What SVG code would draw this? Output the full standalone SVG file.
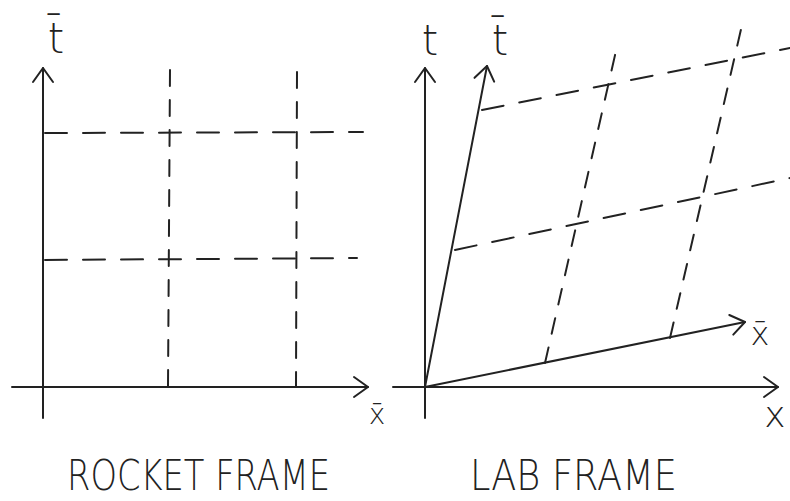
<svg xmlns="http://www.w3.org/2000/svg" width="790" height="501" viewBox="0 0 790 501">
<style>
.ax{fill:none;stroke:#222;stroke-width:2;stroke-linecap:round}
.dh{fill:none;stroke:#222;stroke-width:2;stroke-dasharray:22 16;stroke-linecap:round}
.dv{fill:none;stroke:#222;stroke-width:2;stroke-dasharray:16 14;stroke-linecap:round}
.lbl{font-family:"DejaVu Sans","Liberation Sans",sans-serif;font-weight:200;fill:#222;text-anchor:middle}
.big{font-family:"DejaVu Sans","Liberation Sans",sans-serif;font-weight:200;fill:#222;font-size:42px}
</style>
<defs>
<marker id="arr" markerWidth="20" markerHeight="24" refX="16" refY="12" orient="auto" markerUnits="userSpaceOnUse">
<path d="M2 2 L16 12 L2 22" fill="none" stroke="#222" stroke-width="2" stroke-linecap="round" stroke-linejoin="round"/>
</marker>
</defs>
<rect width="790" height="501" fill="#fff"/>
<g id="rocket-frame">
<g id="rocket-connectors">
<path class="ax" d="M43 418 L43 68" marker-end="url(#arr)"/>
<path class="ax" d="M12 387 L368 387" marker-end="url(#arr)"/>
<path class="dh" d="M45 133 L363 132"/>
<path class="dh" d="M45 260 L357 258"/>
<path class="dv" d="M170 70 L168 387"/>
<path class="dv" d="M297 72 L296 387"/>
</g>
<text class="lbl" x="56" y="53" font-size="42">t̄</text>
<text class="lbl" x="377" y="424" font-size="28">x̄</text>
<text class="big" x="67" y="490" textLength="263" lengthAdjust="spacingAndGlyphs">ROCKET FRAME</text>
</g>
<g id="lab-frame">
<g id="lab-connectors">
<path class="ax" d="M425 418 L425 68" marker-end="url(#arr)"/>
<path class="ax" d="M393 387 L778 387" marker-end="url(#arr)"/>
<path class="ax" d="M425 387 L487 66" marker-end="url(#arr)"/>
<path class="ax" d="M425 387 L745 322" marker-end="url(#arr)"/>
<path class="dh" d="M482 110 L790 48"/>
<path class="dh" d="M455 250 L790 178"/>
<path class="dv" d="M545 363 L618 42"/>
<path class="dv" d="M670 338 L742 25"/>
</g>
<text class="lbl" x="430" y="55" font-size="42">t</text>
<text class="lbl" x="500" y="55" font-size="42">t̄</text>
<text class="lbl" x="760" y="345" font-size="32">x̄</text>
<text class="lbl" x="775" y="427" font-size="36">x</text>
<text class="big" x="470" y="490" textLength="207" lengthAdjust="spacingAndGlyphs">LAB FRAME</text>
</g>
</svg>
